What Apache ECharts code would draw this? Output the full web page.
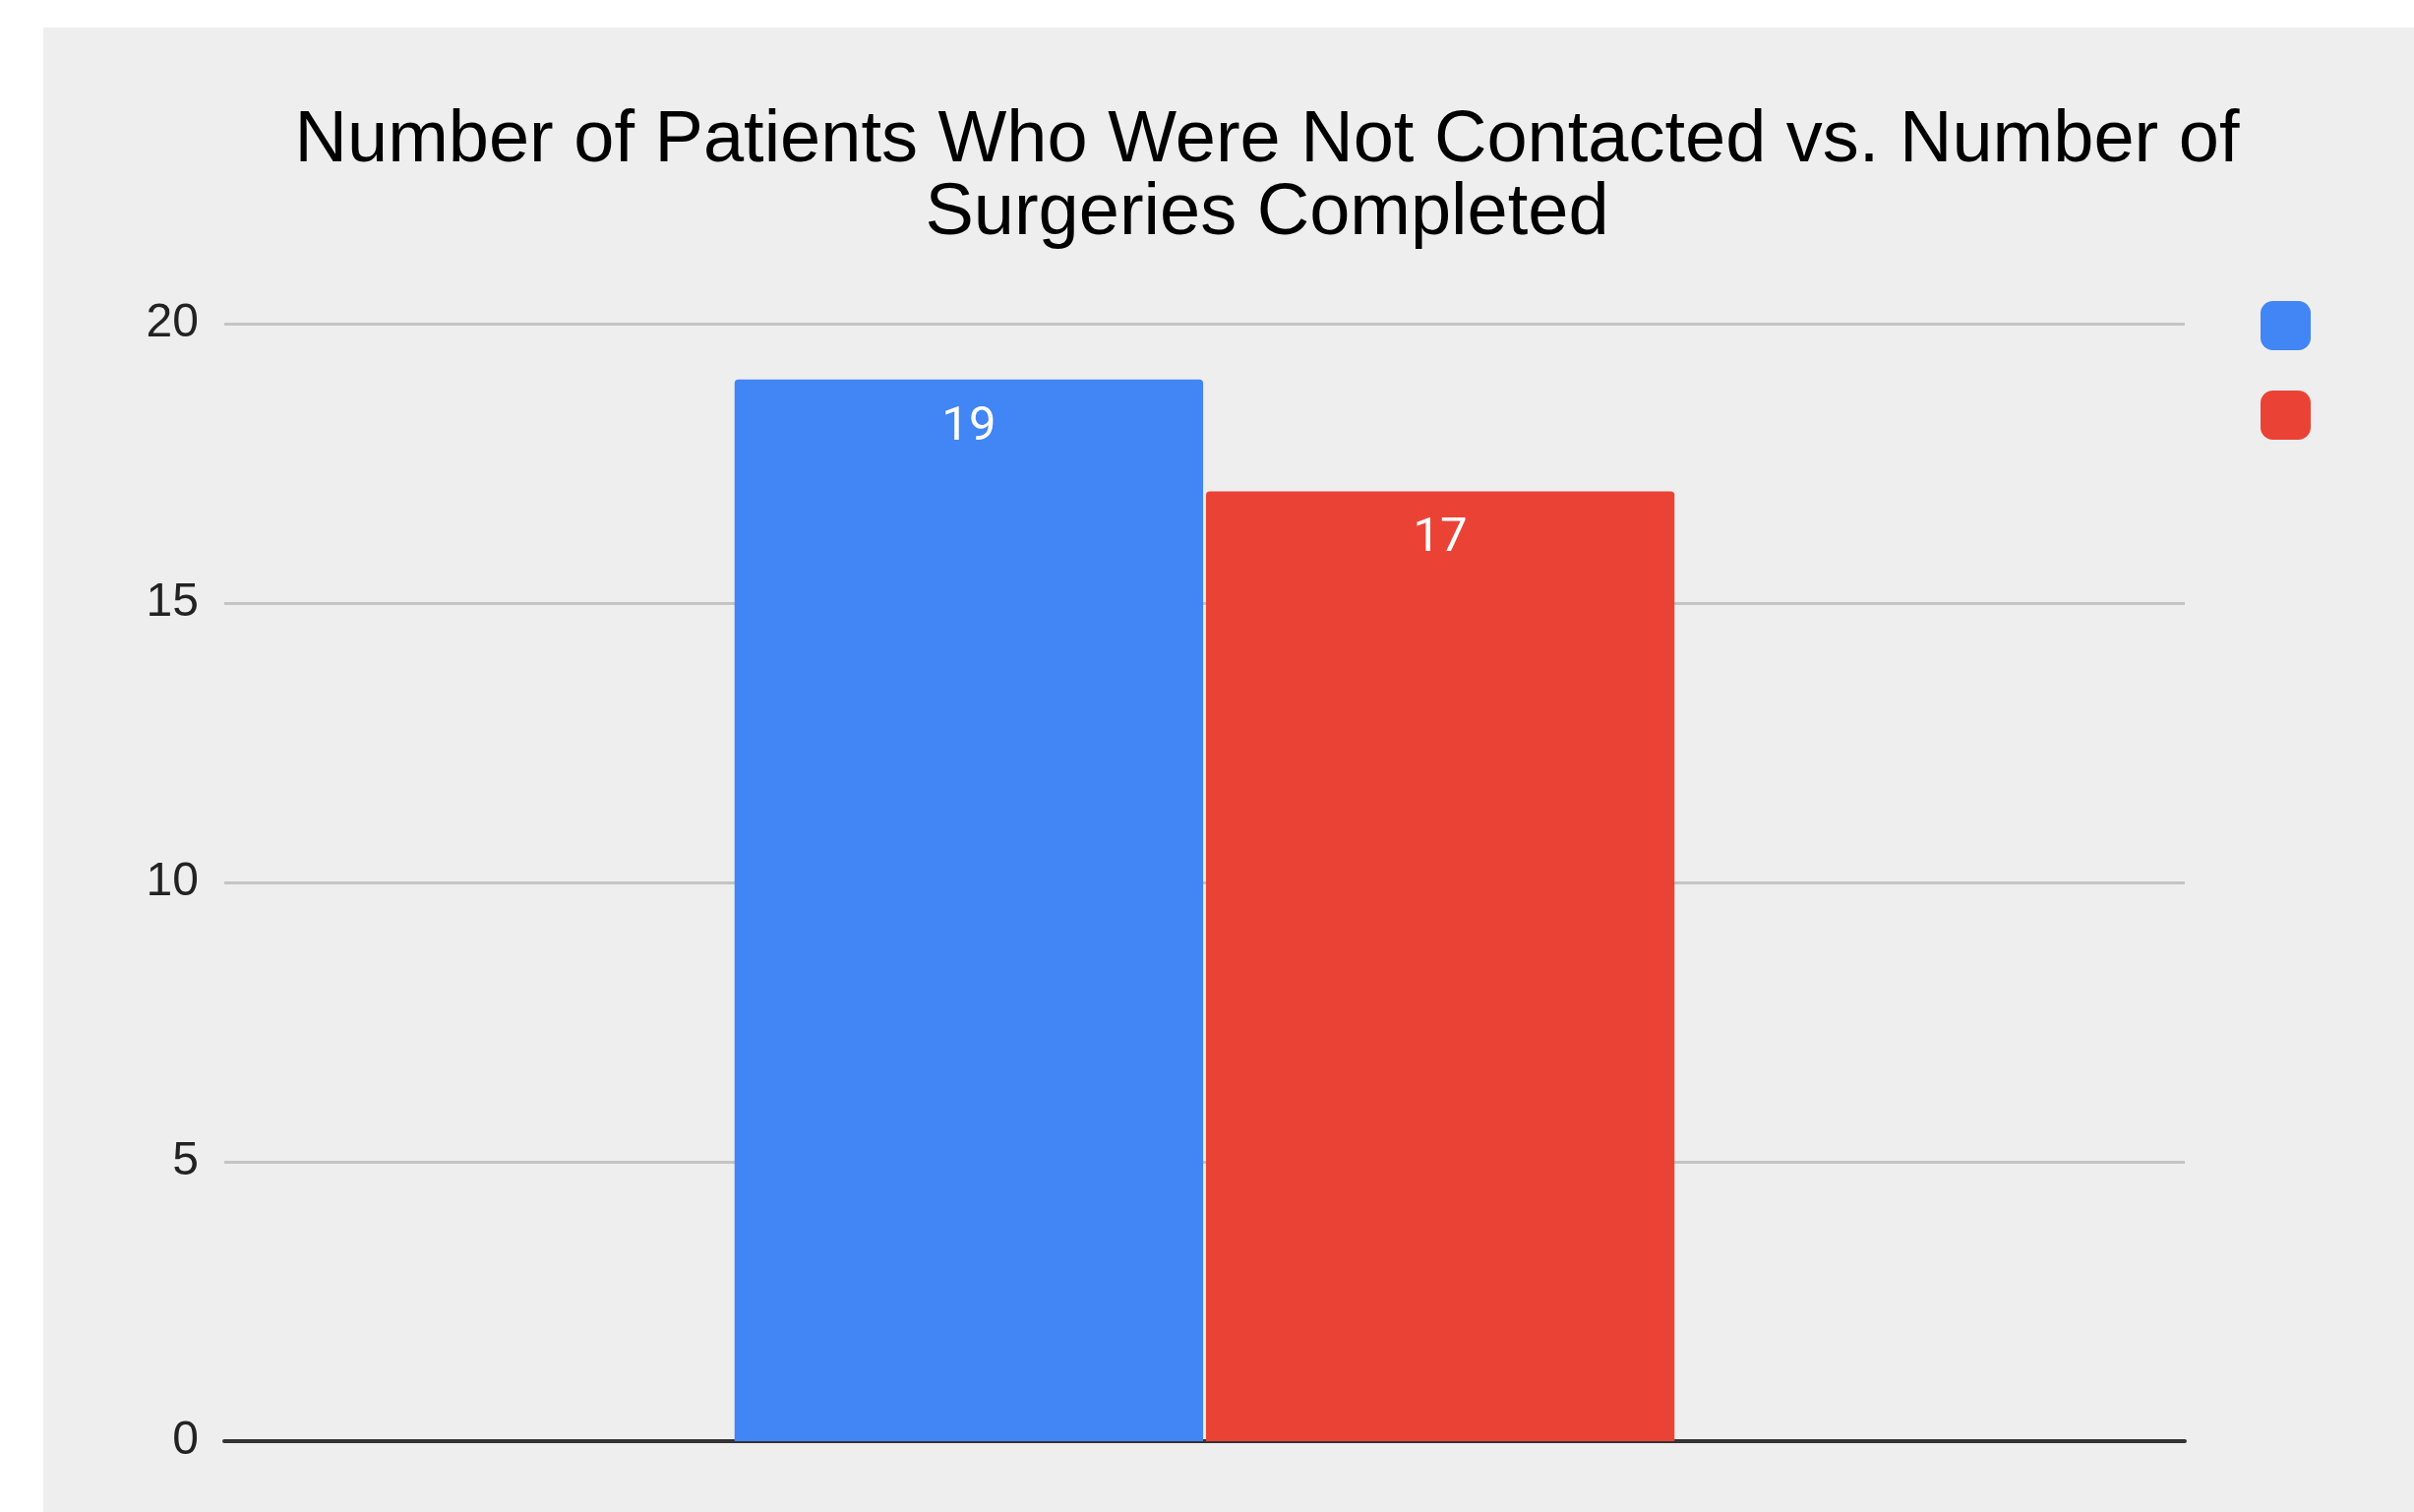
<!DOCTYPE html>
<html>
<head>
<meta charset="utf-8">
<script src="https://cdn.jsdelivr.net/npm/echarts@6/dist/echarts.min.js"></script>
<style>
html,body{margin:0;padding:0;background:#ffffff;width:2454px;height:1537px;overflow:hidden;}
#chart{position:absolute;left:44px;top:28px;width:2410px;height:1509px;background:#eeeeee;}
</style>
</head>
<body>
<div id="chart"></div>
<script>
const titleText = 'Number of Patients Who Were Not Contacted vs. Number of\nSurgeries Completed';
const categories = [''];
const seriesNames = ['Patients Not Contacted', 'Surgeries Completed'];
const notContacted = [19];
const surgeriesCompleted = [17];
const yTicks = { min: 0, max: 20, interval: 5 };
const colors = ['#4285f4', '#ea4335'];

const chart = echarts.init(document.getElementById('chart'));
chart.setOption({
  backgroundColor: '#eeeeee',
  animation: false,
  title: {
    text: titleText,
    left: 1244,
    top: 79,
    padding: 0,
    textAlign: 'center',
    textStyle: {
      fontFamily: 'Liberation Sans, Arial, sans-serif',
      fontSize: 74,
      fontWeight: 'normal',
      color: '#000000',
      lineHeight: 74
    }
  },
  legend: {
    orient: 'vertical',
    left: 2254,
    top: 278,
    padding: 0,
    itemWidth: 51,
    itemHeight: 50,
    itemGap: 41,
    icon: 'roundRect',
    formatter: function () { return ''; },
    data: seriesNames,
    selectedMode: false
  },
  grid: {
    left: 184,
    right: 233,
    top: 301,
    bottom: 72,
    containLabel: false
  },
  xAxis: {
    type: 'category',
    data: categories,
    axisLine: { show: true, lineStyle: { color: '#333333', width: 4 } },
    axisTick: { show: false },
    axisLabel: { show: false },
    splitLine: { show: false }
  },
  yAxis: {
    type: 'value',
    min: yTicks.min,
    max: yTicks.max,
    interval: yTicks.interval,
    axisLine: { show: false },
    axisTick: { show: false },
    axisLabel: {
      margin: 26,
      fontFamily: 'Liberation Sans, Arial, sans-serif',
      fontSize: 48,
      color: '#222222'
    },
    splitLine: { show: true, lineStyle: { color: '#c4c4c4', width: 3 } }
  },
  series: [
    {
      name: seriesNames[0],
      type: 'bar',
      data: notContacted,
      barWidth: '23.9%',
      barGap: '0.6%',
      itemStyle: { color: colors[0], borderRadius: [4, 4, 0, 0] },
      label: {
        show: true,
        position: 'insideTop',
        distance: 24,
        color: '#ffffff',
        fontFamily: 'Roboto, sans-serif',
        fontSize: 49
      }
    },
    {
      name: seriesNames[1],
      type: 'bar',
      data: surgeriesCompleted,
      barWidth: '23.9%',
      barGap: '0.6%',
      itemStyle: { color: colors[1], borderRadius: [4, 4, 0, 0] },
      label: {
        show: true,
        position: 'insideTop',
        distance: 24,
        color: '#ffffff',
        fontFamily: 'Roboto, sans-serif',
        fontSize: 49
      }
    }
  ]
});
</script>
</body>
</html>
